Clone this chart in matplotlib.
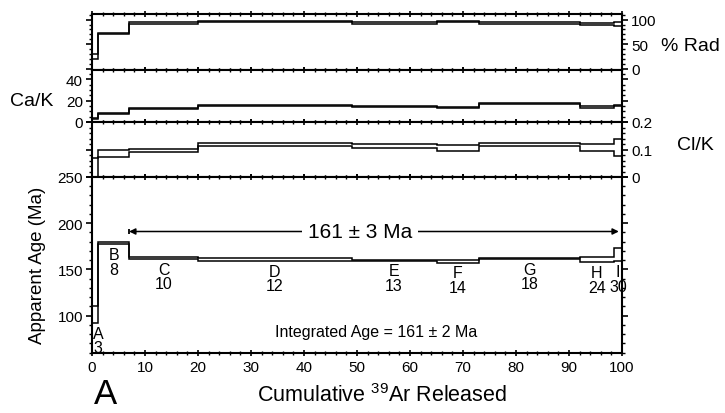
import numpy as np
import matplotlib
matplotlib.use("Agg")
import matplotlib.pyplot as plt
from matplotlib.ticker import MultipleLocator, FuncFormatter

plt.rcParams['font.family'] = ['Liberation Sans', 'DejaVu Sans']
plt.rcParams['mathtext.fontset'] = 'custom'
plt.rcParams['mathtext.rm'] = 'Liberation Sans'
plt.rcParams['mathtext.it'] = 'Liberation Sans:italic'
plt.rcParams['mathtext.bf'] = 'Liberation Sans:bold'

# --- heating steps -------------------------------------------------------
step_labels = ['A', 'B', 'C', 'D', 'E', 'F', 'G', 'H', 'I']
step_power = [3, 8, 10, 12, 13, 14, 18, 24, 30]
cum_39ar = [0, 1.2, 7, 20, 49, 65, 73, 92, 98.5, 100]

age_ma = [101, 178.6, 162.1, 160.6, 160.1, 158.6, 161.7, 160.6, 165.9]
age_err = [9, 1.35, 1.0, 1.35, 0.5, 1.2, 0.6, 2.8, 7.3]

cl_k = [0.035, 0.086, 0.096, 0.118, 0.112, 0.107, 0.117, 0.107, 0.108]
cl_k_err = [0.035, 0.014, 0.006, 0.006, 0.008, 0.011, 0.005, 0.014, 0.03]

ca_k = [3.5, 8.3, 12.3, 15.4, 14.5, 13.3, 17.0, 14.0, 15.0]
ca_k_err = [0.5, 0.5, 0.5, 0.5, 0.5, 0.5, 0.5, 0.5, 0.5]

rad = [24, 72, 93, 95.6, 93.5, 95.6, 93.5, 91, 91.5]
rad_err = [5, 1.5, 1.5, 1.5, 1.5, 1.5, 1.5, 1.5, 4]

plateau_start, plateau_end = 7, 100
plateau_age, plateau_err = 161, 3
integrated_age, integrated_err = 161, 2

W, H = 725, 414
fig = plt.figure(figsize=(W / 100, H / 100), dpi=100)

X0, X1 = 92, 622


def panel(top, bottom):
    return fig.add_axes([X0 / W, 1 - bottom / H, (X1 - X0) / W, (bottom - top) / H])


ax_rad = panel(14.5, 70.5)
ax_cak = panel(70.5, 123)
ax_clk = panel(123, 178)
ax_age = panel(178, 353.5)
axes = [ax_rad, ax_cak, ax_clk, ax_age]


def spectrum(ax, vals, errs, lw=1.1):
    v = np.asarray(vals, float)
    e = np.asarray(errs, float)
    kw = dict(color='k', lw=lw, baseline=None)
    ax.stairs(v + e, cum_39ar, **kw)
    ax.stairs(v - e, cum_39ar, **kw)
    ax.vlines([cum_39ar[0], cum_39ar[-1]], [v[0] - e[0], v[-1] - e[-1]],
              [v[0] + e[0], v[-1] + e[-1]], color='k', lw=lw)


for ax in axes:
    ax.set_xlim(0, 100)
    for s in ax.spines.values():
        s.set_linewidth(1.5)
    ax.xaxis.set_major_locator(MultipleLocator(10))
    ax.xaxis.set_minor_locator(MultipleLocator(2))
    ax.xaxis.set_ticks_position('both')
    ax.yaxis.set_ticks_position('both')
    ax.tick_params(axis='x', which='major', direction='inout', length=5, width=1.2,
                   labelbottom=False, labelsize=11, pad=3)
    ax.tick_params(axis='x', which='minor', direction='inout', length=3, width=1)
    ax.tick_params(axis='y', which='major', direction='out', length=4.5, width=1.2,
                   labelsize=11, pad=2)
    ax.tick_params(axis='y', which='minor', direction='out', length=2.5, width=1)

ax_age.tick_params(axis='x', labelbottom=True)

# % radiogenic
spectrum(ax_rad, rad, rad_err)
ax_rad.set_ylim(-2, 112.5)
ax_rad.yaxis.set_major_locator(MultipleLocator(50))
ax_rad.yaxis.set_minor_locator(MultipleLocator(10))
ax_rad.tick_params(axis='y', labelleft=False, labelright=True)

# Ca/K
spectrum(ax_cak, ca_k, ca_k_err)
ax_cak.set_ylim(0, 49)
ax_cak.yaxis.set_major_locator(MultipleLocator(20))
ax_cak.yaxis.set_minor_locator(MultipleLocator(5))
ax_cak.tick_params(axis='y', labelleft=True, labelright=False)

# Cl/K
spectrum(ax_clk, cl_k, cl_k_err)
ax_clk.set_ylim(0, 0.2)
ax_clk.yaxis.set_major_locator(MultipleLocator(0.1))
ax_clk.yaxis.set_minor_locator(MultipleLocator(0.02))
ax_clk.yaxis.set_major_formatter(FuncFormatter(lambda v, p: '0' if abs(v) < 1e-9 else f'{v:g}'))
ax_clk.tick_params(axis='y', labelleft=False, labelright=True)

# apparent age
spectrum(ax_age, age_ma, age_err)
ax_age.set_ylim(60, 250)
ax_age.yaxis.set_major_locator(MultipleLocator(50))
ax_age.yaxis.set_minor_locator(MultipleLocator(10))
ax_age.tick_params(axis='y', labelleft=True, labelright=False)

# step labels under each box
for i, (lab, pw) in enumerate(zip(step_labels, step_power)):
    xc = 0.5 * (cum_39ar[i] + cum_39ar[i + 1])
    if lab == 'A':
        xc = 1.2
    yb = age_ma[i] - age_err[i]
    z = 1 if lab == 'I' else 3
    ax_age.annotate(lab, (xc, yb), xytext=(0, -2), textcoords='offset points',
                    ha='center', va='top', fontsize=11.5, zorder=z)
    ax_age.annotate(str(pw), (xc, yb), xytext=(0, -12.5), textcoords='offset points',
                    ha='center', va='top', fontsize=11.5, zorder=z)

# plateau bracket
plateau_y = 191
ax_age.annotate('', xy=(plateau_start, plateau_y), xytext=(plateau_end - 0.6, plateau_y),
                arrowprops=dict(arrowstyle='<|-|>', color='k', lw=1.1,
                                mutation_scale=9, shrinkA=0, shrinkB=0))
ax_age.vlines(plateau_start, plateau_y - 3, plateau_y + 3, color='k', lw=1.3)
ax_age.text(50.6, plateau_y, f'{plateau_age} \u00b1 {plateau_err} Ma', ha='center',
            va='center', fontsize=15,
            bbox=dict(facecolor='white', edgecolor='none', pad=4))

ax_age.text(53.6, 83.2, f'Integrated Age = {integrated_age} \u00b1 {integrated_err} Ma',
            ha='center', va='center', fontsize=11.5)

# axis titles
fig.text(32 / W, 1 - 101 / H, 'Ca/K', ha='center', va='center', fontsize=14)
fig.text(38 / W, 1 - 265 / H, 'Apparent Age (Ma)', ha='center', va='center',
         fontsize=13.5, rotation=90)
fig.text(690 / W, 1 - 46.7 / H, '% Rad', ha='center', va='center', fontsize=14)
fig.text(695 / W, 1 - 145 / H, 'Cl/K', ha='center', va='center', fontsize=14)
fig.text(382 / W, 1 - 396 / H, r'Cumulative $^{39}$Ar Released', ha='center',
         va='center', fontsize=15.5)
fig.text(105 / W, 1 - 395 / H, 'A', ha='center', va='center', fontsize=25)

fig.savefig('out.png', dpi=100)
